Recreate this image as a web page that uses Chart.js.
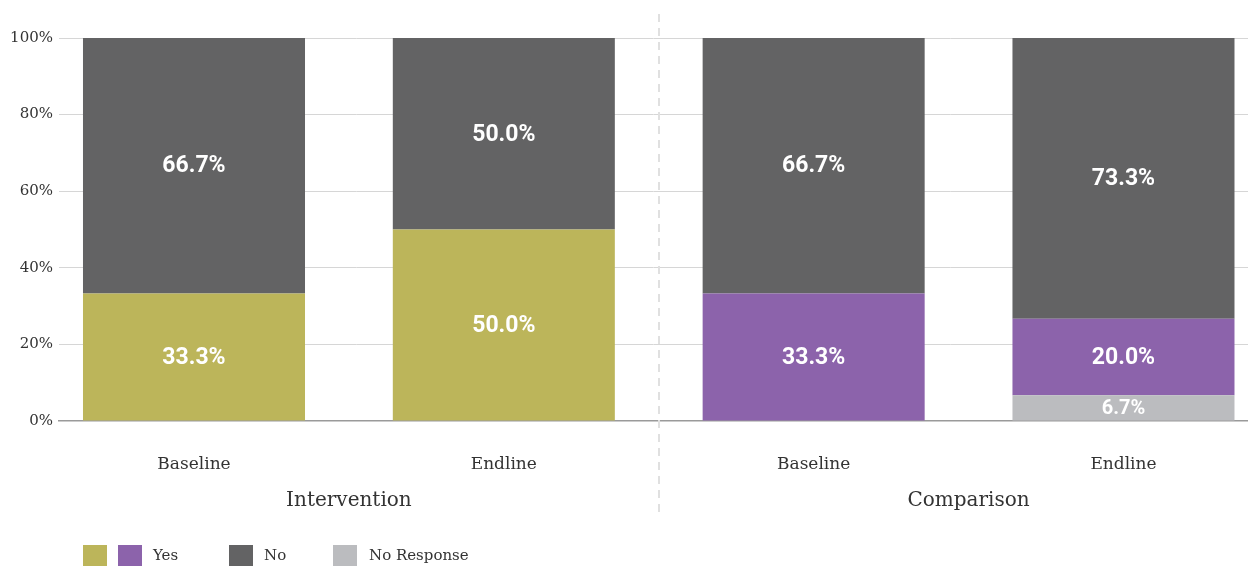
<!DOCTYPE html>
<html>
<head>
<meta charset="utf-8">
<script src="https://cdn.jsdelivr.net/npm/chart.js@4"></script>
<style>
html,body{margin:0;padding:0;background:#fff;}
#wrap{width:1248px;height:566px;}
</style>
</head>
<body>
<div id="wrap"><canvas id="c" width="1248" height="566"></canvas></div>
<script>
// ---- data ----
const categories = ["Baseline", "Endline", "Baseline", "Endline"];
const groups = ["Intervention", "Comparison"];
const yesIntervention = [33.3, 50.0, null, null];
const yesComparison = [null, null, 33.3, 20.0];
const noValues = [66.7, 50.0, 66.7, 73.3];
const noResponse = [0, 0, 0, 6.7];
const yTicks = [0, 20, 40, 60, 80, 100];
const legendLabels = ["Yes", "No", "No Response"];

const C_OLIVE = "#bcb55a", C_PURPLE = "#8c63ab", C_DARK = "#636364", C_LIGHT = "#bbbcbf";
const SERIF = "'DejaVu Serif', serif";

const pts = arr => arr.map((v, i) => ({x: i, y: v}));

const labelPlugin = {
  id: "labels",
  afterDatasetsDraw(chart) {
    const ctx = chart.ctx;
    ctx.save();
    ctx.fillStyle = "#ffffff";
    ctx.textAlign = "center";
    ctx.textBaseline = "middle";
    chart.data.datasets.forEach((ds, di) => {
      const meta = chart.getDatasetMeta(di);
      meta.data.forEach((bar, i) => {
        const v = ds.data[i].y;
        if (!v) return;
        const top = bar.y, bottom = bar.base;
        const h = Math.abs(bottom - top);
        ctx.font = (h < 35 ? "bold 20px" : "bold 23px") + " Roboto, sans-serif";
        ctx.fillText(v.toFixed(1) + "%", bar.x, (top + bottom) / 2 + 1);
      });
    });
    ctx.restore();
  },
  afterDraw(chart) {
    const ctx = chart.ctx;
    const xs = chart.scales.x;
    ctx.save();
    // separator
    ctx.strokeStyle = "#e0e0e0";
    ctx.lineWidth = 2;
    ctx.setLineDash([8, 6]);
    const sx = Math.round(xs.getPixelForValue(1.5));
    ctx.beginPath();
    ctx.moveTo(sx, 14);
    ctx.lineTo(sx, 513);
    ctx.stroke();
    ctx.setLineDash([]);
    // group labels
    ctx.fillStyle = "#333333";
    ctx.font = "20px " + SERIF;
    ctx.textAlign = "center";
    ctx.textBaseline = "middle";
    ctx.fillText(groups[0], xs.getPixelForValue(0.5), 501);
    ctx.fillText(groups[1], xs.getPixelForValue(2.5), 501);
    // legend
    const boxes = [[83, C_OLIVE], [118, C_PURPLE], [229, C_DARK], [333, C_LIGHT]];
    boxes.forEach(([x, c]) => { ctx.fillStyle = c; ctx.fillRect(x, 545, 24, 21); });
    ctx.fillStyle = "#333333";
    ctx.font = "15px " + SERIF;
    ctx.textAlign = "left";
    ctx.fillText(legendLabels[0], 153, 556);
    ctx.fillText(legendLabels[1], 264, 556);
    ctx.fillText(legendLabels[2], 369, 556);
    ctx.restore();
  }
};

const common = {borderWidth: 0, barPercentage: 1.0, categoryPercentage: 0.7166};

new Chart(document.getElementById("c"), {
  type: "bar",
  data: {
    datasets: [
      Object.assign({label: "No Response", data: pts(noResponse), backgroundColor: C_LIGHT}, common),
      Object.assign({label: "Yes (Intervention)", data: pts(yesIntervention), backgroundColor: C_OLIVE}, common),
      Object.assign({label: "Yes (Comparison)", data: pts(yesComparison), backgroundColor: C_PURPLE}, common),
      Object.assign({label: "No", data: pts(noValues), backgroundColor: C_DARK}, common)
    ]
  },
  options: {
    responsive: false,
    animation: false,
    events: [],
    layout: {padding: {top: 38, right: 0, left: 0, bottom: 0}},
    plugins: {legend: {display: false}, tooltip: {enabled: false}},
    scales: {
      x: {
        type: "linear",
        stacked: true,
        offset: false,
        min: -0.4357,
        max: 3.4019,
        grid: {display: false, drawTicks: false},
        border: {display: true, color: "#9a9a9a", width: 1.5},
        afterBuildTicks: s => { s.ticks = categories.map((_, i) => ({value: i})); },
        afterFit: s => { s.height = 145; },
        ticks: {
          autoSkip: false,
          maxRotation: 0,
          padding: 33,
          color: "#333333",
          font: {family: SERIF, size: 17},
          callback: v => categories[v]
        }
      },
      y: {
        stacked: true,
        min: 0,
        max: 100,
        afterBuildTicks: s => { s.ticks = yTicks.map(v => ({value: v})); },
        afterFit: s => { s.width = 59; },
        grid: {color: ctx => ctx.tick && ctx.tick.value === 0 ? "rgba(0,0,0,0)" : "#d6d6d6", drawTicks: false, lineWidth: 1},
        border: {display: false},
        ticks: {
          padding: 6,
          color: "#333333",
          font: {family: SERIF, size: 15},
          callback: v => v + "%"
        }
      }
    }
  },
  plugins: [labelPlugin]
});
</script>
</body>
</html>
